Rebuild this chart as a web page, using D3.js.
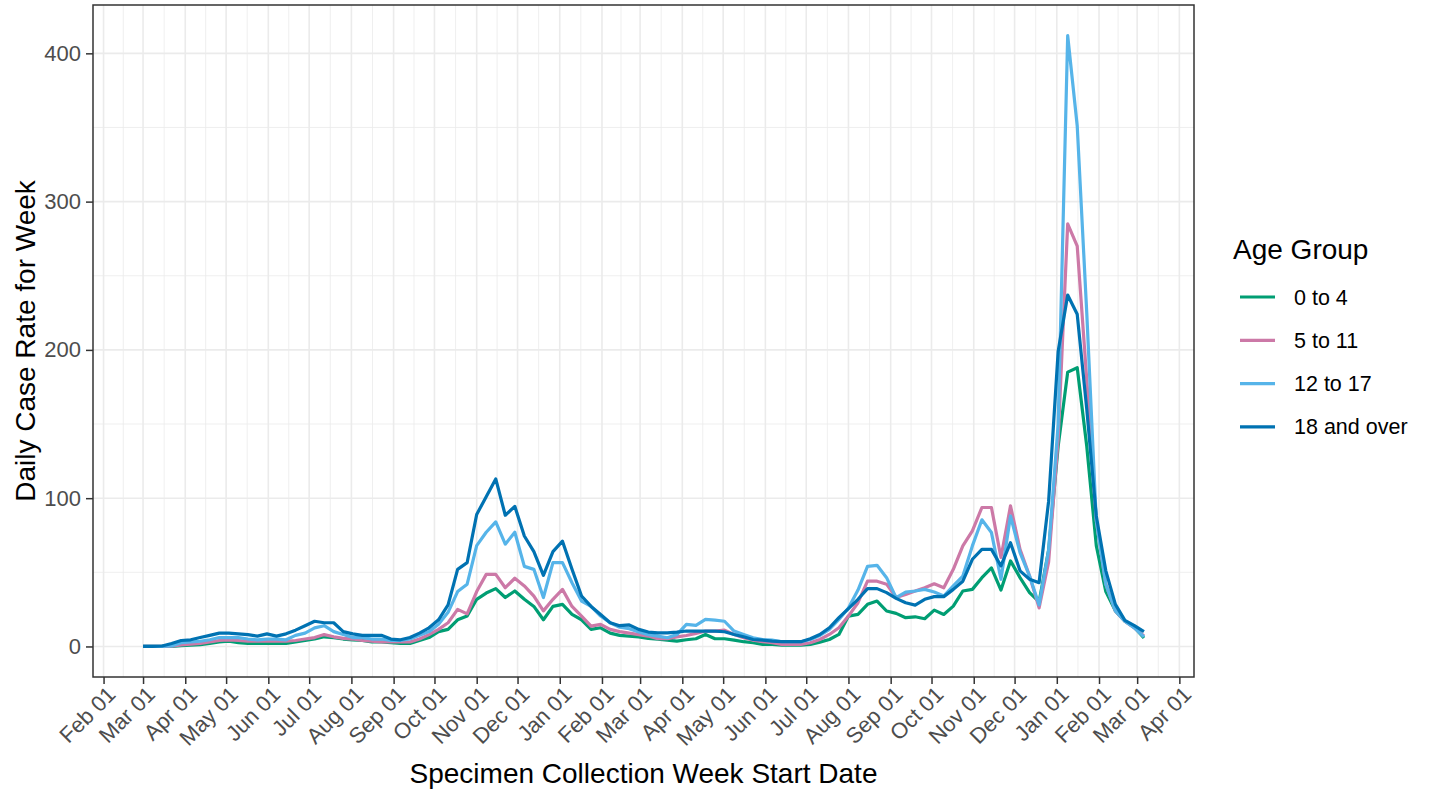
<!DOCTYPE html>
<html>
<head>
<meta charset="utf-8">
<script src="https://cdn.jsdelivr.net/npm/d3@7"></script>
<style>
body { margin: 0; background: #fff; }
text { font-family: "Liberation Sans", Arial, sans-serif; }
</style>
</head>
<body>
<svg id="chart" width="1430" height="794"></svg>
<script>
// age groups and their colours
var ageGroups = ["0 to 4", "5 to 11", "12 to 17", "18 and over"];
var groupColors = ["#009E73", "#CC79A7", "#56B4E9", "#0072B2"];

// weekly start dates, Sunday 2020-03-01 to Sunday 2022-03-06
var weekStarts = d3.utcSunday.range(new Date(Date.UTC(2020, 2, 1)), new Date(Date.UTC(2022, 2, 7)));

// daily case rate for week
var rate0to4 = [
  0, 0, 0, 0, 0.5, 0.8, 1.2, 2, 3, 3.5,
  2.5, 2, 2, 2, 2, 2, 3, 4, 5, 6.5,
  6, 5, 4.5, 4, 3, 3, 2.5, 2, 2, 4,
  6, 10, 11.5, 18, 20.5, 31.8, 36, 39, 33, 37.4,
  31.8, 27, 18, 27, 28.4, 21.6, 18, 11.5, 12.6, 9,
  7.5, 7, 6.5, 5.5, 5, 4.3, 3.6, 4.5, 5.2, 8.1,
  5.2, 5.2, 4.3, 3.2, 2.5, 1.4, 1.4, 0.9, 0.9, 0.9,
  1.4, 2.9, 4.7, 8.1, 20.5, 21.6, 28.4, 30.6, 23.9, 22.3,
  19.4, 20, 18.7, 24.5, 21.6, 27.2, 37.4, 38.5, 46.4, 53,
  38, 57.7, 46.4, 36.3, 30, 65, 135, 185, 188, 135,
  68, 37, 24, 17, 12.8, 5.7
];
var rate5to11 = [
  0, 0, 0, 0.2, 1, 1.5, 2, 3, 4, 4.5,
  4, 3.5, 3.5, 3.5, 3.5, 3.5, 4, 5, 6, 8,
  6.5, 5.5, 5, 4, 3.5, 3, 3, 3, 3, 5,
  8, 11.5, 16, 25, 22, 37, 48.6, 48.6, 39.6, 46,
  40.8, 34, 24, 31.8, 38.5, 27, 20.5, 13.7, 14.9, 11.5,
  10, 9, 8, 7, 5.2, 5.2, 6.5, 7.4, 8.8, 10.4,
  10.4, 11, 8.1, 5.9, 4.3, 3.2, 2.5, 1.4, 1.4, 1.4,
  2.5, 4.7, 8.1, 12.6, 20.5, 29.5, 44, 44, 42, 33,
  35, 37.4, 39.6, 42.3, 39.6, 52, 67.8, 78, 93.7, 93.7,
  60, 94.8, 65.5, 47.5, 26, 57, 140, 285, 270, 180,
  85, 42, 24, 17, 12.5, 7
];
var rate12to17 = [
  0, 0, 0, 0.3, 2.5, 3, 3.5, 4.5, 6, 6,
  6, 5, 4.5, 5, 5, 4.5, 7.5, 9, 12.5, 14,
  10, 8, 6, 6, 5, 5, 4, 4, 5, 7.5,
  10, 15, 23, 37, 42, 68, 77, 84, 69, 77,
  54, 52, 33, 56.5, 56.5, 43, 30.6, 27, 20.5, 16,
  13, 12, 9.7, 8, 7, 5.9, 8, 14.9, 14.2, 18.2,
  17.8, 17, 10.4, 8.1, 5.9, 4.7, 4.3, 3.2, 3.2, 3.2,
  4.7, 7.4, 11.5, 18.2, 26, 38, 54, 54.7, 46.4, 32.9,
  36.7, 37.4, 38.5, 36.7, 34, 40.8, 47.5, 67.8, 85.4, 76.8,
  45.3, 88, 63.3, 47.5, 28, 65, 150, 412, 351, 225,
  85, 42, 24, 17, 12.5, 6.5
];
var rate18plus = [
  0, 0, 0.3, 2, 4, 4.5, 6, 7.5, 9, 9,
  8.5, 8, 7, 8.5, 7, 8.5, 11, 14, 17, 16,
  16, 10, 8.5, 7.5, 7.5, 7.5, 5, 4.5, 6, 9,
  12.6, 18, 28, 52, 56.5, 89, 101, 113, 88.5, 94.5,
  74.5, 64, 48, 64, 71, 52, 34, 27, 21.6, 16,
  14, 14.5, 11.5, 9.7, 9.2, 9.2, 9.7, 10.4, 10.4, 10.4,
  10.4, 9.9, 8.1, 6.5, 4.7, 4.3, 3.6, 3.2, 3.2, 3.2,
  5.2, 8.1, 12.6, 19.4, 25.5, 31.8, 39, 39, 36.3, 32.4,
  29.5, 27.9, 31.8, 33.6, 33.6, 38.5, 44, 58.8, 65.5, 65.5,
  54.3, 70, 51, 45.3, 43, 98, 199, 237, 224, 160,
  88, 51, 28.4, 17.6, 14, 10
];
var seriesValues = [rate0to4, rate5to11, rate12to17, rate18plus];

var yTickValues = [0, 100, 200, 300, 400];
var yMinorValues = [50, 150, 250, 350];

var svg = d3.select("#chart");

// panel box
var panelLeft = 93, panelRight = 1194, panelTop = 5, panelBottom = 677;

// ggplot style 5% expansion on both scales
var xExtent = d3.extent(weekStarts);
var xPad = (xExtent[1] - xExtent[0]) * 0.05;
var x = d3.scaleUtc()
  .domain([new Date(+xExtent[0] - xPad), new Date(+xExtent[1] + xPad)])
  .range([panelLeft, panelRight]);

var yMax = d3.max(seriesValues, function(s) { return d3.max(s); });
var yPad = yMax * 0.05;
var y = d3.scaleLinear()
  .domain([-yPad, yMax + yPad])
  .range([panelBottom, panelTop]);

var monthTicks = d3.utcMonth.range(new Date(Date.UTC(2020, 1, 1)), new Date(Date.UTC(2022, 3, 2)));
var monthMinor = [];
for (var k = 0; k < monthTicks.length - 1; k++) {
  monthMinor.push(new Date((+monthTicks[k] + +monthTicks[k + 1]) / 2));
}

// panel background
svg.append("rect")
  .attr("x", panelLeft).attr("y", panelTop)
  .attr("width", panelRight - panelLeft).attr("height", panelBottom - panelTop)
  .attr("fill", "#fff");

var grid = svg.append("g");
grid.selectAll(".yminor").data(yMinorValues).enter().append("line")
  .attr("x1", panelLeft).attr("x2", panelRight)
  .attr("y1", function(d) { return y(d); }).attr("y2", function(d) { return y(d); })
  .attr("stroke", "#EBEBEB").attr("stroke-width", 0.8);
grid.selectAll(".xminor").data(monthMinor).enter().append("line")
  .attr("y1", panelTop).attr("y2", panelBottom)
  .attr("x1", function(d) { return x(d); }).attr("x2", function(d) { return x(d); })
  .attr("stroke", "#EBEBEB").attr("stroke-width", 0.8);
grid.selectAll(".ymajor").data(yTickValues).enter().append("line")
  .attr("x1", panelLeft).attr("x2", panelRight)
  .attr("y1", function(d) { return y(d); }).attr("y2", function(d) { return y(d); })
  .attr("stroke", "#EBEBEB").attr("stroke-width", 1.6);
grid.selectAll(".xmajor").data(monthTicks).enter().append("line")
  .attr("y1", panelTop).attr("y2", panelBottom)
  .attr("x1", function(d) { return x(d); }).attr("x2", function(d) { return x(d); })
  .attr("stroke", "#EBEBEB").attr("stroke-width", 1.6);

// lines
var line = d3.line()
  .x(function(d, i) { return x(weekStarts[i]); })
  .y(function(d) { return y(d); });

svg.append("g").selectAll("path")
  .data(seriesValues)
  .enter()
  .append("path")
  .attr("d", function(d) { return line(d); })
  .attr("fill", "none")
  .attr("stroke", function(d, i) { return groupColors[i]; })
  .attr("stroke-width", 3.2)
  .attr("stroke-linejoin", "round");

// panel border
svg.append("rect")
  .attr("x", panelLeft).attr("y", panelTop)
  .attr("width", panelRight - panelLeft).attr("height", panelBottom - panelTop)
  .attr("fill", "none").attr("stroke", "#333333").attr("stroke-width", 1.5);

// y axis
var yAxis = svg.append("g")
  .attr("transform", "translate(" + panelLeft + ",0)")
  .call(d3.axisLeft(y).tickValues(yTickValues).tickSize(7).tickPadding(5));
yAxis.select(".domain").remove();
yAxis.selectAll(".tick line").attr("stroke", "#333333").attr("stroke-width", 1.5);
yAxis.selectAll(".tick text")
  .attr("fill", "#4D4D4D").style("font-size", "22px");

// x axis
var xAxis = svg.append("g")
  .attr("transform", "translate(0," + panelBottom + ")")
  .call(d3.axisBottom(x).tickValues(monthTicks).tickFormat(d3.utcFormat("%b %d")).tickSize(7));
xAxis.select(".domain").remove();
xAxis.selectAll(".tick line").attr("stroke", "#333333").attr("stroke-width", 1.5);
xAxis.selectAll(".tick text")
  .attr("fill", "#4D4D4D").style("font-size", "22px")
  .attr("y", 0).attr("dy", "0.7em")
  .attr("text-anchor", "end")
  .attr("transform", "translate(2,8) rotate(-45)");

// axis titles
svg.append("text")
  .attr("x", (panelLeft + panelRight) / 2).attr("y", 783)
  .attr("text-anchor", "middle")
  .style("font-size", "28px").attr("fill", "#000")
  .text("Specimen Collection Week Start Date");

svg.append("text")
  .attr("transform", "translate(35," + ((panelTop + panelBottom) / 2) + ") rotate(-90)")
  .attr("text-anchor", "middle")
  .style("font-size", "28px").attr("fill", "#000")
  .text("Daily Case Rate for Week");

// legend
var legend = svg.append("g");
legend.append("text")
  .attr("x", 1233).attr("y", 259)
  .style("font-size", "28px").attr("fill", "#000")
  .text("Age Group");

var keys = legend.selectAll(".key")
  .data(ageGroups)
  .enter()
  .append("g")
  .attr("transform", function(d, i) { return "translate(0," + (297 + i * 43.3) + ")"; });
keys.append("line")
  .attr("x1", 1240).attr("x2", 1275)
  .attr("stroke", function(d, i) { return groupColors[i]; })
  .attr("stroke-width", 3.2);
keys.append("text")
  .attr("x", 1294).attr("dy", "0.35em")
  .style("font-size", "21.5px").attr("fill", "#000")
  .text(function(d) { return d; });
</script>
</body>
</html>
